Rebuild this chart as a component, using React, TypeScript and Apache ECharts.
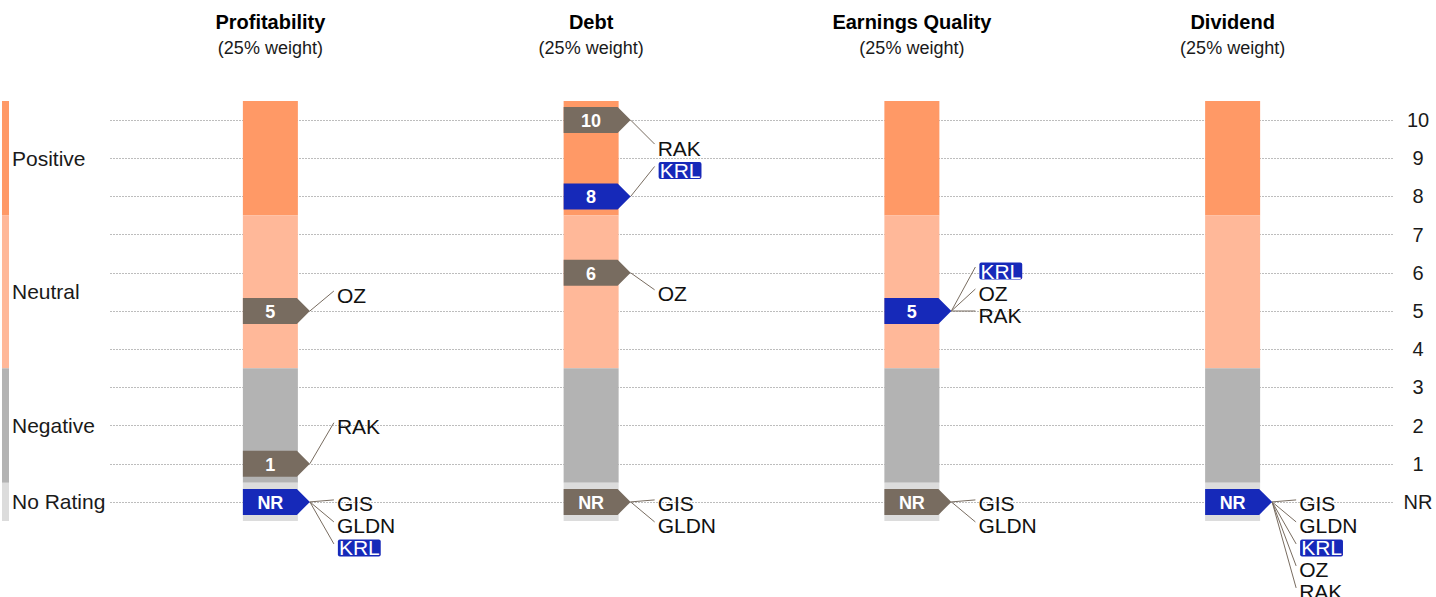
import React, { useEffect, useRef } from 'react';
import * as echarts from 'echarts';

// ---------- data ----------
const CATEGORIES = ['Profitability', 'Debt', 'Earnings Quality', 'Dividend'];
const WEIGHTS = ['25%', '25%', '25%', '25%'];
const COMPANIES = ['GIS', 'GLDN', 'KRL', 'OZ', 'RAK'];
const HIGHLIGHT = 'KRL';
// scores in COMPANIES order; null = No Rating (NR)
const PROFITABILITY = [null, null, null, 5, 1];
const DEBT = [null, null, 8, 6, 10];
const EARNINGS_QUALITY = [null, null, 5, 5, 5];
const DIVIDEND = [null, null, null, null, null];
const SCORES: (number | null)[][] = [PROFITABILITY, DEBT, EARNINGS_QUALITY, DIVIDEND];

const BAND_NAMES = ['Positive', 'Neutral', 'Negative', 'No Rating'];
const BAND_LOW = [8, 4, 1, 0];
const BAND_HIGH = [10, 7, 3, 0];
const TICK_LABELS = ['NR', '1', '2', '3', '4', '5', '6', '7', '8', '9', '10'];

// ---------- styling / layout ----------
const BAND_COLORS = ['#FF9966', '#FFB899', '#B3B3B3', '#DCDCDC'];
const BLUE = '#1629B9';
const GRAY = '#786C60';
const FONT = '"Liberation Sans", Arial, Helvetica, sans-serif';
const BAR_W = 55;
const LABEL_GAP = 22;
// vertical shift (px) of the first ticker label from its marker, per "category:score"
const LABEL_SHIFT: Record<string, number> = {
  '0:5': -16, '0:1': -37, '0:0': 2,
  '1:10': 28, '1:8': -26, '1:6': 21, '1:0': 2,
  '2:5': -40, '2:0': 2,
  '3:0': 2,
};

type Marker = { col: number; score: number; names: string[]; hl: boolean };

function buildMarkers(): Marker[] {
  const out: Marker[] = [];
  SCORES.forEach((arr, col) => {
    const groups = new Map<number, string[]>();
    arr.forEach((s, i) => {
      const k = s == null ? 0 : s;
      if (!groups.has(k)) groups.set(k, []);
      groups.get(k)!.push(COMPANIES[i]);
    });
    groups.forEach((names, score) => {
      out.push({ col, score, names, hl: names.includes(HIGHLIGHT) });
    });
  });
  return out;
}

function buildOption(): any {
  const markers = buildMarkers();
  const bandItems: number[][] = [];
  CATEGORIES.forEach((_, c) => BAND_NAMES.forEach((__, b) => bandItems.push([c, b])));

  return {
    animation: false,
    textStyle: { fontFamily: FONT },
    grid: [
      { left: 110, right: 43, top: 101, bottom: 76, outerBoundsMode: 'none', containLabel: false },
      { left: 110, right: 43, top: 120, bottom: 95, outerBoundsMode: 'none', containLabel: false },
    ],
    xAxis: [
      {
        type: 'category',
        gridIndex: 0,
        position: 'top',
        data: CATEGORIES,
        axisLine: { show: false },
        axisTick: { show: false },
        splitLine: { show: false },
        axisLabel: {
          interval: 0,
          margin: 40,
          formatter: (v: string, i: number) => `{t|${v}}\n{s|(${WEIGHTS[i]} weight)}`,
          rich: {
            t: { fontSize: 20, fontWeight: 'bold', color: '#000', lineHeight: 26, fontFamily: FONT },
            s: { fontSize: 18, color: '#1a1a1a', lineHeight: 26, fontFamily: FONT },
          },
        },
      },
      { type: 'value', gridIndex: 1, show: false, min: 0, max: 1 },
    ],
    yAxis: [
      { type: 'value', gridIndex: 0, min: -0.5, max: 10.5, show: false },
      {
        type: 'value',
        gridIndex: 1,
        min: 0,
        max: 10,
        interval: 1,
        position: 'right',
        axisLine: { show: false },
        axisTick: { show: false },
        axisLabel: {
          margin: 25,
          align: 'center',
          fontSize: 20,
          color: '#1a1a1a',
          fontFamily: FONT,
          formatter: (v: number) => TICK_LABELS[Math.round(v)] ?? '',
        },
        splitLine: { show: true, lineStyle: { color: '#BDBDBD', width: 1, type: [2, 1] } },
      },
    ],
    series: [
      // left legend strip + labels
      {
        type: 'custom',
        xAxisIndex: 0,
        yAxisIndex: 0,
        clip: false,
        z: 2,
        data: BAND_NAMES.map((_, b) => [0, b]),
        encode: { x: 0, y: 1 },
        renderItem: (params: any, api: any) => {
          const b = params.dataIndex;
          const yTop = api.coord([0, BAND_HIGH[b] + 0.5])[1];
          const yBot = api.coord([0, BAND_LOW[b] - 0.5])[1];
          const yMid = api.coord([0, (BAND_HIGH[b] + BAND_LOW[b]) / 2])[1];
          return {
            type: 'group',
            children: [
              { type: 'rect', shape: { x: 2, y: yTop, width: 7, height: yBot - yTop }, style: { fill: BAND_COLORS[b] } },
              {
                type: 'text',
                style: {
                  text: BAND_NAMES[b], x: 12, y: yMid, align: 'left', verticalAlign: 'middle',
                  fill: '#1a1a1a', font: `21px ${FONT}`,
                },
              },
            ],
          };
        },
      },
      // stacked rating bars
      {
        type: 'custom',
        xAxisIndex: 0,
        yAxisIndex: 0,
        clip: false,
        z: 2,
        data: bandItems,
        encode: { x: 0, y: 1 },
        renderItem: (params: any, api: any) => {
          const [c, b] = bandItems[params.dataIndex];
          const top = api.coord([c, BAND_HIGH[b] + 0.5]);
          const bot = api.coord([c, BAND_LOW[b] - 0.5]);
          return {
            type: 'rect',
            shape: { x: top[0] - BAR_W / 2, y: top[1], width: BAR_W, height: bot[1] - top[1] },
            style: { fill: BAND_COLORS[b] },
          };
        },
      },
      // score markers with ticker labels
      {
        type: 'custom',
        xAxisIndex: 0,
        yAxisIndex: 0,
        clip: false,
        z: 3,
        data: markers.map((m) => [m.col, m.score]),
        encode: { x: 0, y: 1 },
        renderItem: (params: any, api: any) => {
          const m = markers[params.dataIndex];
          const [cx, cy] = api.coord([m.col, m.score]);
          const half = BAR_W / 2;
          const color = m.hl ? BLUE : GRAY;
          const tipX = cx + half + 12;
          const children: any[] = [];
          const shift = LABEL_SHIFT[`${m.col}:${m.score}`] ?? 0;
          m.names.forEach((n, i) => {
            const ly = cy + shift + i * LABEL_GAP;
            const lx = cx + half + 39;
            const hl = n === HIGHLIGHT;
            children.push({
              type: 'line',
              shape: { x1: tipX, y1: cy, x2: lx - 3, y2: ly - 4 },
              style: { stroke: GRAY, lineWidth: 1 },
            });
            children.push({
              type: 'text',
              style: hl
                ? {
                    text: n, x: lx + 1, y: ly, align: 'left', verticalAlign: 'middle',
                    fill: '#fff', font: `21px ${FONT}`, backgroundColor: BLUE,
                    padding: [0, 1, 0, 1], borderRadius: 2, lineHeight: 17,
                  }
                : {
                    text: n, x: lx, y: ly, align: 'left', verticalAlign: 'middle',
                    fill: '#111', font: `21px ${FONT}`,
                  },
            });
          });
          children.push({
            type: 'polygon',
            shape: {
              points: [
                [cx - half, cy - 13],
                [cx + half - 1, cy - 13],
                [tipX, cy],
                [cx + half - 1, cy + 13],
                [cx - half, cy + 13],
              ],
            },
            style: { fill: color },
          });
          children.push({
            type: 'text',
            style: {
              text: m.score === 0 ? 'NR' : String(m.score), x: cx, y: cy + 1,
              align: 'center', verticalAlign: 'middle', fill: '#fff', font: `bold 18px ${FONT}`,
            },
          });
          return { type: 'group', children };
        },
      },
    ],
  };
}

export default function App() {
  const ref = useRef<HTMLDivElement>(null);
  useEffect(() => {
    document.body.style.margin = '0';
    const chart = echarts.init(ref.current as HTMLDivElement, null, { renderer: 'svg' });
    chart.setOption(buildOption());
    return () => chart.dispose();
  }, []);
  return <div ref={ref} style={{ width: 1436, height: 597 }} />;
}
